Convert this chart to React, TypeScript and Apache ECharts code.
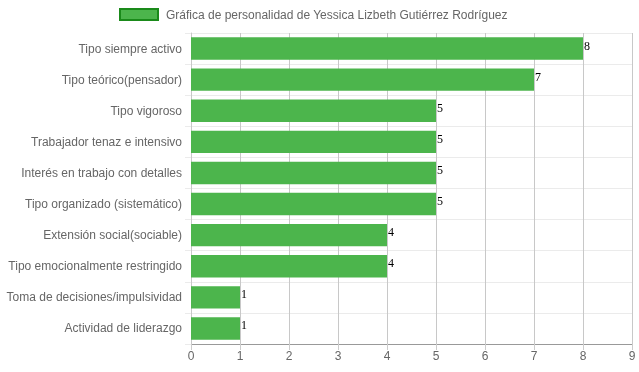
import React, { useEffect, useRef } from "react";
import * as echarts from "echarts";

const categories = [
  "Tipo siempre activo",
  "Tipo teórico(pensador)",
  "Tipo vigoroso",
  "Trabajador tenaz e intensivo",
  "Interés en trabajo con detalles",
  "Tipo organizado (sistemático)",
  "Extensión social(sociable)",
  "Tipo emocionalmente restringido",
  "Toma de decisiones/impulsividad",
  "Actividad de liderazgo",
];
const values = [8, 7, 5, 5, 5, 5, 4, 4, 1, 1];
const seriesName = "Gráfica de personalidad de Yessica Lizbeth Gutiérrez Rodríguez";

export default function App() {
  const ref = useRef<HTMLDivElement>(null);
  useEffect(() => {
    const chart = echarts.init(ref.current!, null, { renderer: "svg" });
    chart.setOption({
      animation: false,
      legend: {
        data: [{ name: seriesName, icon: "rect" }],
        top: 8,
        left: 119,
        padding: 0,
        itemWidth: 38,
        itemHeight: 11,
        itemStyle: { color: "#4cb54c", borderColor: "#1a8a1a", borderWidth: 2 },
        textStyle: { color: "#666", fontSize: 12, fontFamily: "Liberation Sans, Arial", padding: [0, 0, 0, 3] },
      },
      grid: { left: 191, right: 7, top: 33, bottom: 28, containLabel: false },
      xAxis: {
        type: "value",
        min: 0,
        max: 9,
        interval: 1,
        axisLine: { show: true, lineStyle: { color: "#999" } },
        axisTick: { show: true, length: 6, lineStyle: { color: "#ccc" } },
        axisLabel: { color: "#666", fontSize: 12, fontFamily: "Liberation Sans, Arial", margin: 6 },
        splitLine: { show: true, lineStyle: { color: "#c8c8c8", width: 1 } },
      },
      yAxis: {
        type: "category",
        data: categories,
        inverse: true,
        axisLine: { show: true, lineStyle: { color: "#c8c8c8" } },
        axisTick: { show: true, length: 6, lineStyle: { color: "#ebebeb" } },
        axisLabel: { color: "#666", fontSize: 12, fontFamily: "Liberation Sans, Arial", margin: 9 },
        splitLine: { show: true, lineStyle: { color: "#ebebeb", width: 1 } },
      },
      series: [
        {
          name: seriesName,
          type: "bar",
          data: values,
          barWidth: "72%",
          itemStyle: { color: "#4cb54c" },
          label: {
            show: true,
            position: "right",
            distance: 1,
            offset: [0, -3],
            color: "#000",
            fontSize: 12,
            fontFamily: "Liberation Serif, Times New Roman, serif",
          },
        },
      ],
    });
    return () => chart.dispose();
  }, []);
  return <div ref={ref} style={{ position: "fixed", left: 0, top: 0, width: 639, height: 372 }} />;
}
